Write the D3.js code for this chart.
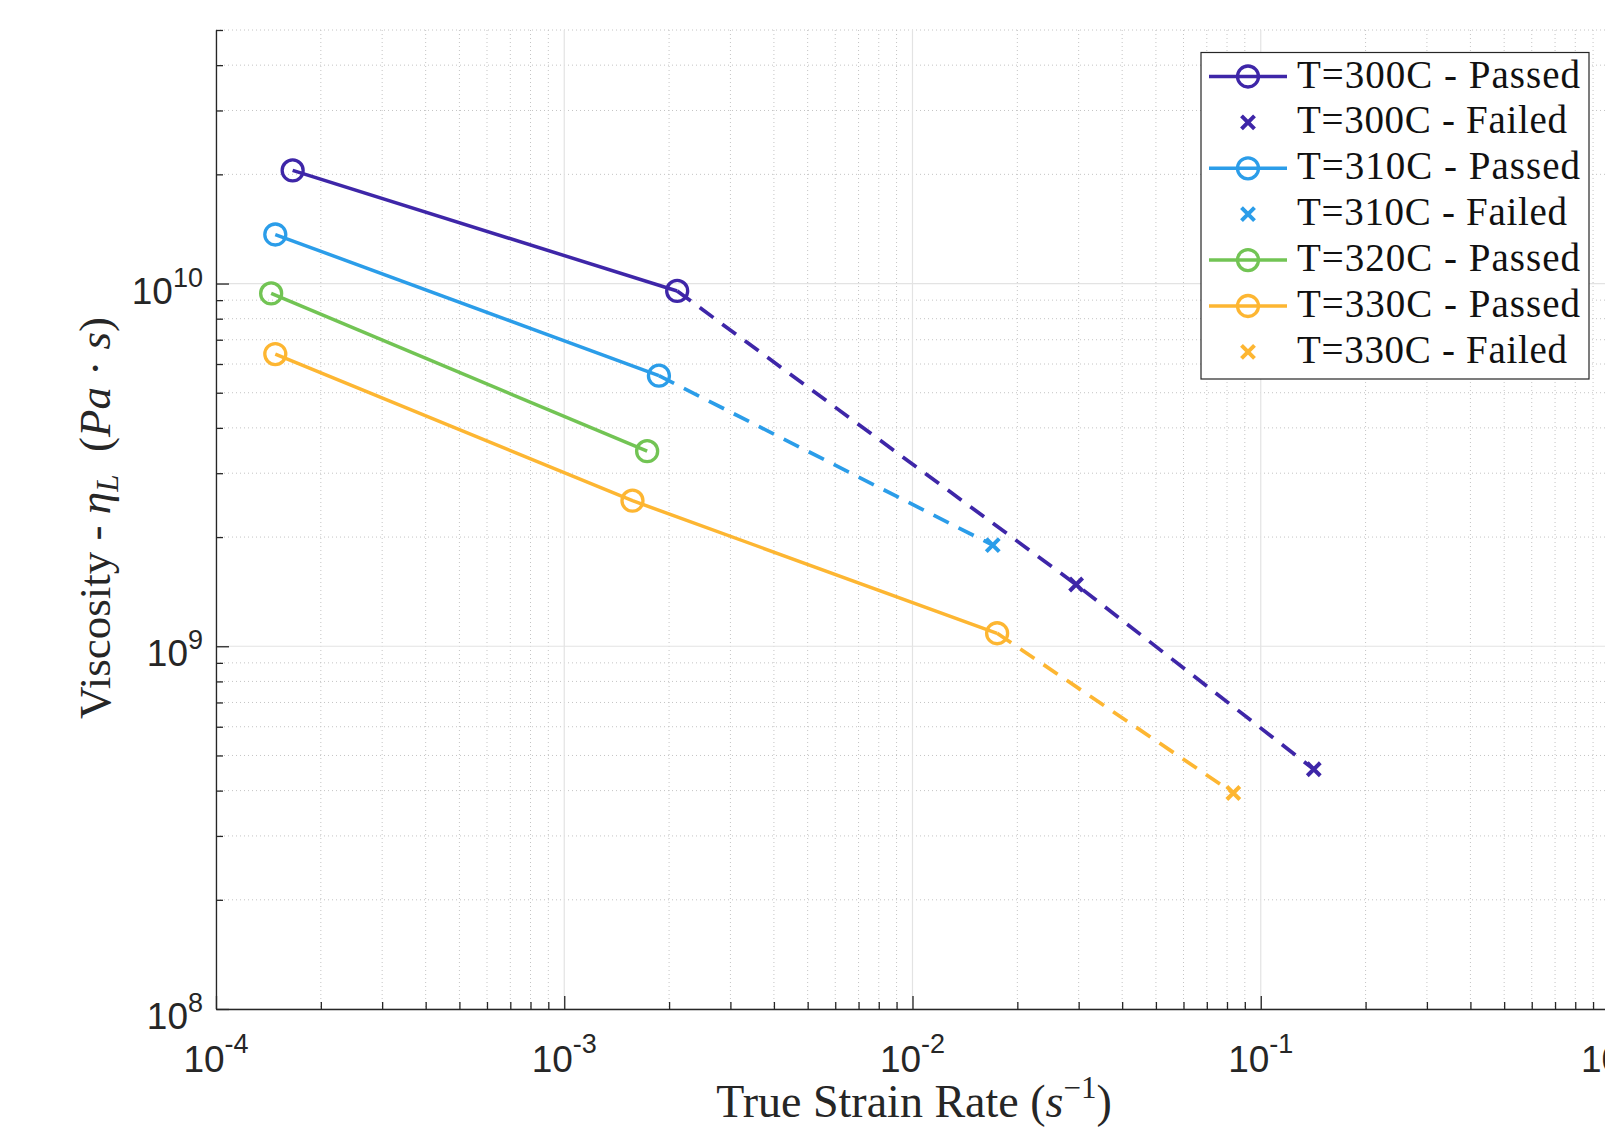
<!DOCTYPE html>
<html>
<head>
<meta charset="utf-8">
<script src="https://cdn.jsdelivr.net/npm/d3@7"></script>
<style>
body{margin:0;background:#fff;}
svg{display:block;}
text{white-space:pre;}
</style>
</head>
<body>
<div id="chart"></div>
<script>
// values (strain rate in 1/s, viscosity in Pa.s)
var rate300p=[1.66e-4,2.11e-3], visc300p=[2.05e10,9.54e9];
var rate300f=[2.95e-2,0.142],   visc300f=[1.48e9,4.58e8];
var rate310p=[1.48e-4,1.87e-3], visc310p=[1.365e10,5.57e9];
var rate310f=[1.70e-2],         visc310f=[1.90e9];
var rate320p=[1.44e-4,1.73e-3], visc320p=[9.39e9,3.45e9];
var rate330p=[1.48e-4,1.57e-3,1.75e-2], visc330p=[6.39e9,2.52e9,1.086e9];
var rate330f=[8.34e-2],         visc330f=[3.94e8];

var temps=["300","310","320","330"];
var colors={"300":"#3e26a8","310":"#2b9de9","320":"#72c454","330":"#fdb632"};
var legendLabels=["T=300C - Passed","T=300C - Failed","T=310C - Passed","T=310C - Failed",
                  "T=320C - Passed","T=330C - Passed","T=330C - Failed"];
var legendKeys=[["300","p"],["300","f"],["310","p"],["310","f"],["320","p"],["330","p"],["330","f"]];
var xExp=[-4,-3,-2,-1,0];
var yExp=[8,9,10];

var width=1605,height=1127;
var plotL=216,plotR=1609,plotT=30,plotB=1009;

var x=d3.scaleLog().domain([1e-4,1]).range([plotL,plotR]);
var y=d3.scaleLog().domain([1e8,5e10]).range([plotB,plotT]);

var svg=d3.select("#chart").append("svg")
    .attr("width",width).attr("height",height)
    .style("font-family","'Liberation Sans',Arial,sans-serif");

function minors(scale){
    var d=scale.domain(),out=[];
    var a=Math.floor(Math.log10(d[0])),b=Math.ceil(Math.log10(d[1]));
    for(var e=a;e<b;e++){
        for(var k=2;k<=9;k++){
            var v=k*Math.pow(10,e);
            if(v>=d[0]&&v<=d[1]*1.0001) out.push(v);
        }
    }
    return out;
}
var xMajor=xExp.map(e=>Math.pow(10,e)), yMajor=yExp.map(e=>Math.pow(10,e));
var xMinor=minors(x), yMinor=minors(y);

// grid
var grid=svg.append("g");
grid.selectAll(".xmin").data(xMinor).enter().append("line")
    .attr("x1",d=>x(d)).attr("x2",d=>x(d)).attr("y1",plotT).attr("y2",plotB)
    .attr("stroke","#c4c4c4").attr("stroke-width",1).attr("stroke-dasharray","1,3");
grid.selectAll(".ymin").data(yMinor).enter().append("line")
    .attr("y1",d=>y(d)).attr("y2",d=>y(d)).attr("x1",plotL).attr("x2",plotR)
    .attr("stroke","#c4c4c4").attr("stroke-width",1).attr("stroke-dasharray","1,3");
grid.selectAll(".xmaj").data(xMajor).enter().append("line")
    .attr("x1",d=>x(d)).attr("x2",d=>x(d)).attr("y1",plotT).attr("y2",plotB)
    .attr("stroke","#e3e3e3").attr("stroke-width",1.2);
grid.selectAll(".ymaj").data(yMajor).enter().append("line")
    .attr("y1",d=>y(d)).attr("y2",d=>y(d)).attr("x1",plotL).attr("x2",plotR)
    .attr("stroke","#e3e3e3").attr("stroke-width",1.2);

// axes, ticks pointing inward
function styleAxis(g){
    g.selectAll("path,line").attr("stroke","#262626").attr("stroke-width",1.3);
    g.selectAll("text").remove();
}
svg.append("g").attr("transform","translate(0,"+plotB+")")
    .call(d3.axisBottom(x).tickValues(xMajor).tickSize(-13).tickSizeOuter(0).tickFormat(""))
    .call(styleAxis);
svg.append("g").attr("transform","translate(0,"+plotB+")")
    .call(d3.axisBottom(x).tickValues(xMinor).tickSize(-7).tickFormat(""))
    .call(styleAxis).select(".domain").remove();
svg.append("g").attr("transform","translate("+plotL+",0)")
    .call(d3.axisLeft(y).tickValues(yMajor).tickSize(-13).tickSizeOuter(0).tickFormat(""))
    .call(styleAxis);
svg.append("g").attr("transform","translate("+plotL+",0)")
    .call(d3.axisLeft(y).tickValues(yMinor).tickSize(-7).tickFormat(""))
    .call(styleAxis).select(".domain").remove();

// tick labels 10^n
svg.selectAll(".xlab").data(xExp).enter().append("text")
    .attr("x",d=>x(Math.pow(10,d))).attr("y",1072)
    .attr("text-anchor","middle").attr("font-size",37).attr("fill","#262626")
    .each(function(d){
        var t=d3.select(this);
        t.append("tspan").text("10");
        t.append("tspan").attr("dy",-19).attr("font-size",27).text(String(d));
    });
svg.selectAll(".ylab").data(yExp).enter().append("text")
    .attr("x",203).attr("y",d=>y(Math.pow(10,d))+20)
    .attr("text-anchor","end").attr("font-size",37).attr("fill","#262626")
    .each(function(d){
        var t=d3.select(this);
        t.append("tspan").text("10");
        t.append("tspan").attr("dy",-17).attr("font-size",27).text(String(d));
    });

// axis titles
var serif="'Liberation Serif','Times New Roman',serif";
var xt=svg.append("text").attr("x",914).attr("y",1117).attr("text-anchor","middle")
    .attr("font-family",serif).attr("font-size",46).attr("fill","#262626");
xt.append("tspan").text("True Strain Rate (");
xt.append("tspan").attr("font-style","italic").text("s");
xt.append("tspan").attr("dy",-19).attr("font-size",31).text("\u22121");
xt.append("tspan").attr("dy",19).text(")");

var yt=svg.append("text").attr("transform","translate(110,518) rotate(-90)")
    .attr("text-anchor","middle").attr("font-family",serif).attr("font-size",45).attr("fill","#262626");
yt.append("tspan").text("Viscosity - ");
yt.append("tspan").attr("font-style","italic").text("\u03b7");
yt.append("tspan").attr("font-style","italic").attr("font-size",31).attr("dy",8).text("L");
yt.append("tspan").attr("dy",-8).text("  (");
yt.append("tspan").attr("font-style","italic").text("Pa");
yt.append("tspan").text(" \u00b7 ");
yt.append("tspan").attr("font-style","italic").text("s");
yt.append("tspan").text(")");

// data
var passed={"300":[rate300p,visc300p],"310":[rate310p,visc310p],"320":[rate320p,visc320p],"330":[rate330p,visc330p]};
var failed={"300":[rate300f,visc300f],"310":[rate310f,visc310f],"330":[rate330f,visc330f]};
function pts(r,v){ return r.map((d,i)=>[d,v[i]]); }

var line=d3.line().x(d=>x(d[0])).y(d=>y(d[1]));
var plot=svg.append("g");

// dashed continuation from last passed point through failed points
temps.forEach(function(t){
    if(!failed[t]) return;
    var p=pts(passed[t][0],passed[t][1]);
    var f=pts(failed[t][0],failed[t][1]);
    plot.append("path").datum([p[p.length-1]].concat(f)).attr("d",line)
        .attr("fill","none").attr("stroke",colors[t]).attr("stroke-width",3.7)
        .attr("stroke-dasharray","17,11");
});
temps.forEach(function(t){
    var p=pts(passed[t][0],passed[t][1]);
    plot.append("path").datum(p).attr("d",line)
        .attr("fill","none").attr("stroke",colors[t]).attr("stroke-width",3.5);
    plot.selectAll(null).data(p).enter().append("circle")
        .attr("cx",d=>x(d[0])).attr("cy",d=>y(d[1])).attr("r",10.5)
        .attr("fill","none").attr("stroke",colors[t]).attr("stroke-width",3.3);
});
function cross(g,cx,cy,c){
    var s=6.5;
    g.append("path").attr("d","M"+(cx-s)+","+(cy-s)+"L"+(cx+s)+","+(cy+s)+"M"+(cx-s)+","+(cy+s)+"L"+(cx+s)+","+(cy-s))
        .attr("stroke",c).attr("stroke-width",4).attr("fill","none");
}
temps.forEach(function(t){
    if(!failed[t]) return;
    pts(failed[t][0],failed[t][1]).forEach(d=>cross(plot,x(d[0]),y(d[1]),colors[t]));
});

// legend
var lg=svg.append("g");
lg.append("rect").attr("x",1201).attr("y",52.5).attr("width",388).attr("height",326.5)
    .attr("fill","#fff").attr("stroke","#262626").attr("stroke-width",1.2);
legendLabels.forEach(function(lab,i){
    var cy=76.5+i*45.9, t=legendKeys[i][0], c=colors[t];
    if(legendKeys[i][1]=="p"){
        lg.append("line").attr("x1",1209).attr("x2",1287).attr("y1",cy).attr("y2",cy)
            .attr("stroke",c).attr("stroke-width",3.5);
        lg.append("circle").attr("cx",1248).attr("cy",cy).attr("r",10.5)
            .attr("fill","none").attr("stroke",c).attr("stroke-width",3.3);
    } else {
        cross(lg,1248,cy,c);
    }
    lg.append("text").attr("x",1297).attr("y",cy+11)
        .attr("font-family",serif).attr("font-size",39).attr("fill","#111")
        .attr("textLength",legendKeys[i][1]=="p"?283:270)
        .text(lab);
});
</script>
</body>
</html>
